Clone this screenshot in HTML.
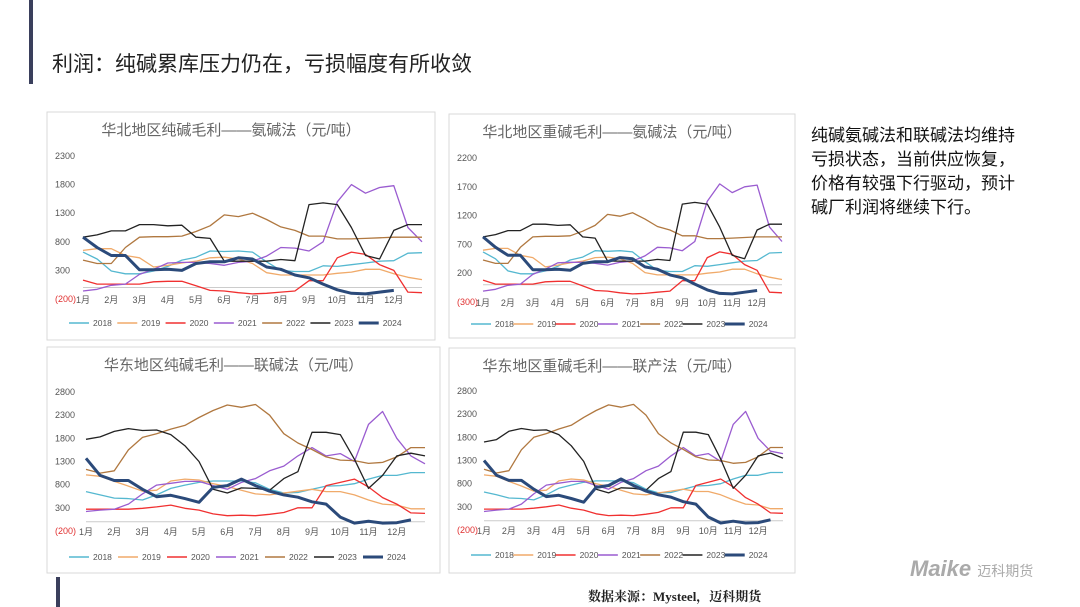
<!DOCTYPE html>
<html><head><meta charset="utf-8">
<style>
body{margin:0;width:1080px;height:607px;background:#fff;position:relative;overflow:hidden;font-family:"Liberation Sans","Noto Sans CJK SC",sans-serif;}
.abs{position:absolute}
</style></head><body>
<div class="abs" style="left:29px;top:0;width:4px;height:84px;background:#3a3f5c"></div>
<div class="abs" style="left:52px;top:48px;font-size:21px;color:#222;">利润：纯碱累库压力仍在，亏损幅度有所收敛</div>
<div class="abs" style="left:811px;top:124px;font-size:17px;line-height:24px;color:#111;">纯碱氨碱法和联碱法均维持<br>亏损状态，当前供应恢复，<br>价格有较强下行驱动，预计<br>碱厂利润将继续下行。</div>
<div class="abs" style="left:56px;top:577px;width:4px;height:30px;background:#3a3f5c"></div>
<div class="abs" style="left:588px;top:586px;font-size:13px;font-weight:bold;color:#222;font-family:'Liberation Serif','Noto Serif CJK SC',serif;">数据来源：Mysteel，迈科期货</div>
<div class="abs" style="left:910px;top:556px;font-size:22px;font-weight:bold;font-style:italic;color:#aaa;">Maike <span style="font-size:14px;font-style:normal;font-weight:normal">迈科期货</span></div>
<svg id="svg" class="abs" style="left:0;top:0" width="1080" height="607"></svg>
<script>
const years=['2018','2019','2020','2021','2022','2023','2024'];
const colors=['#55b8d0','#f0aa6a','#f03030','#9a5cd0','#b07840','#222222','#2b4a7a'];
const months=['1月','2月','3月','4月','5月','6月','7月','8月','9月','10月','11月','12月'];
const ticksA=[-200,300,800,1300,1800,2300];
const ticksB=[-300,200,700,1200,1700,2200];
const ticksC=[-200,300,800,1300,1800,2300,2800];
const nA18=[620,500,290,240,240,290,370,480,530,640,630,640,620,450,300,280,280,380,370,400,430,460,470,600,610];
const nA19=[650,680,680,560,520,360,390,430,460,520,530,500,420,260,220,220,220,220,250,270,320,320,240,180,140];
const nA20=[130,60,60,60,60,100,110,110,30,-50,-60,-90,-110,-100,-80,-60,120,120,520,620,580,400,300,-80,-90];
const nA21=[-60,-30,40,60,230,320,430,440,440,420,390,440,460,550,700,690,640,800,1500,1800,1650,1750,1780,1050,800];
const nA22=[480,420,420,700,880,890,890,900,980,1080,1270,1240,1300,1190,1060,1000,900,900,850,850,860,870,880,880,880];
const nA23=[880,920,990,990,1100,1100,1080,1090,880,860,460,460,460,460,490,470,1450,1480,1450,1050,560,500,1000,1100,1100];
const nA24=[880,700,560,560,310,310,320,300,420,450,450,520,500,360,320,220,170,60,-40,-100,-110,-80,-50,null,null];
const nB18=[570,450,240,190,190,240,320,430,480,590,580,590,570,400,250,230,230,330,320,350,380,410,420,550,560];
const nB19=[600,630,630,510,470,310,340,380,410,470,480,450,370,210,170,170,170,170,200,220,270,270,190,130,90];
const nB20=[80,10,10,10,10,50,60,60,-20,-100,-110,-140,-160,-150,-130,-110,70,70,470,570,530,350,250,-130,-140];
const nB21=[-110,-80,-10,10,180,270,380,390,390,370,340,390,410,500,650,640,590,750,1450,1750,1600,1700,1730,1000,750];
const nB22=[430,370,370,650,830,840,840,850,930,1030,1220,1190,1250,1140,1010,950,850,850,800,800,810,820,830,830,830];
const nB23=[830,870,940,940,1050,1050,1030,1040,830,810,410,410,410,410,440,420,1400,1430,1400,1000,510,450,950,1050,1050];
const nB24=[830,650,510,510,260,260,270,250,370,400,400,470,450,310,270,170,120,10,-90,-150,-160,-130,-100,null,null];
const eC18=[650,580,510,500,470,580,720,790,850,880,880,880,840,700,620,630,700,770,780,820,920,1000,1000,1060,1060];
const eC19=[1010,980,870,770,660,680,880,920,900,820,760,680,600,580,620,660,700,650,650,580,470,380,360,280,280];
const eC20=[270,270,270,270,290,320,360,290,250,170,130,140,130,160,200,300,300,780,850,920,750,520,380,190,180];
const eC21=[220,250,270,380,600,790,830,870,870,780,700,850,930,1100,1200,1420,1600,1420,1470,1300,2100,2380,1800,1420,1250];
const eC22=[1130,1050,1100,1550,1820,1900,2000,2080,2250,2400,2520,2470,2530,2300,1900,1700,1560,1400,1330,1320,1260,1280,1400,1600,1600];
const eC23=[1780,1830,1950,2010,1970,1980,1880,1640,1300,700,620,730,720,680,930,1080,1930,1930,1880,1350,720,1000,1420,1480,1420];
const eC24=[1370,1000,890,890,700,540,570,500,420,740,780,920,780,660,580,530,430,380,100,-30,10,-30,-20,40,null];
const eD18=[620,560,490,480,450,560,700,770,830,860,860,860,820,680,600,610,680,750,760,800,900,980,980,1040,1040];
const eD19=[990,960,850,750,640,660,860,900,880,800,740,660,580,560,600,640,680,630,630,560,450,360,340,260,260];
const eD20=[250,250,250,250,270,300,340,270,230,150,110,120,110,140,180,280,280,760,830,900,730,500,360,170,160];
const eD21=[200,230,250,360,580,770,810,850,850,760,680,830,910,1080,1180,1400,1580,1400,1450,1280,2080,2360,1780,1500,1450];
const eD22=[1110,1030,1080,1530,1800,1880,1980,2060,2230,2380,2500,2450,2510,2280,1880,1680,1540,1380,1310,1300,1240,1260,1380,1580,1580];
const eD23=[1700,1750,1930,1990,1950,1960,1860,1620,1280,680,600,710,700,660,910,1060,1910,1910,1860,1330,700,980,1400,1460,1350];
const eD24=[1300,980,870,870,680,520,550,480,400,720,760,900,760,640,560,510,410,360,80,-50,-10,-50,-40,20,null];

const svg=document.getElementById('svg');const NS='http://www.w3.org/2000/svg';
function mk(t,a,p){const e=document.createElementNS(NS,t);for(const k in a)e.setAttribute(k,a[k]);(p||svg).appendChild(e);return e;}
function chart(c){
  const g=mk('g',{});
  
  
  const box=mk('rect',{x:c.bx,y:c.by,width:c.bw,height:c.bh,fill:'#fff',stroke:'#d9d9d9'},g);
  
  
  const tt=mk('text',{x:c.bx+c.bw/2-10,y:c.by+23,'text-anchor':'middle','font-size':15,fill:'#666'},g);tt.textContent=c.title;
  
  
  const tmin=c.ticks[0],tmax=c.ticks[c.ticks.length-1];
  const Y=v=>c.y1+(c.y0-c.y1)*(tmax-v)/(tmax-tmin);
  const X=m=>c.x0+(c.x1-c.x0)*m/12;
  c.ticks.forEach((t,i)=>{const e=mk('text',{x:c.bx+8,y:Y(t)+3,'font-size':9,fill:i==0?'#e03030':'#555'},g);e.textContent=t<0?'('+(-t)+')':t;
    
    });
  const ax=mk('line',{x1:X(0),x2:X(12),y1:Y(0),y2:Y(0),stroke:'#ccc'},g);
  
  
  months.forEach((m,i)=>{const e=mk('text',{x:X(i),y:c.y0+4,'font-size':9,fill:'#555','text-anchor':'middle'},g);e.textContent=m;
    
    });
  c.series.forEach((s,k)=>{let d='';s.forEach((v,i)=>{if(v==null)return;d+=(d?'L':'M')+X(i*0.5).toFixed(1)+','+Y(v).toFixed(1);});
    const p=mk('path',{d:d,fill:'none',stroke:colors[k],'stroke-width':k==6?3:1.3,'stroke-linejoin':'round'},g);
    
    });
  const lw=(c.bw-50)/7;
  years.forEach((y,k)=>{const lx=c.bx+22+k*lw;
    const l=mk('line',{x1:lx,x2:lx+20,y1:c.ly,y2:c.ly,stroke:colors[k],'stroke-width':k==6?3:1.5},g);
    
    
    const t=mk('text',{x:lx+24,y:c.ly+3,'font-size':8.5,fill:'#555'},g);t.textContent=y;
    
    });
}
chart({name:'chart-north-ammonia-light',bx:47,by:112,bw:388,bh:228,title:'华北地区纯碱毛利——氨碱法（元/吨）',ticks:ticksA,y1:156,y0:299,x0:83,x1:422,ly:323,series:[nA18,nA19,nA20,nA21,nA22,nA23,nA24]});
chart({name:'chart-north-ammonia-heavy',bx:449,by:114,bw:346,bh:224,title:'华北地区重碱毛利——氨碱法（元/吨）',ticks:ticksB,y1:158,y0:302,x0:483,x1:782,ly:324,series:[nB18,nB19,nB20,nB21,nB22,nB23,nB24]});
chart({name:'chart-east-joint-light',bx:47,by:347,bw:393,bh:226,title:'华东地区纯碱毛利——联碱法（元/吨）',ticks:ticksC,y1:392,y0:531,x0:86,x1:425,ly:557,series:[eC18,eC19,eC20,eC21,eC22,eC23,eC24]});
chart({name:'chart-east-joint-heavy',bx:449,by:348,bw:346,bh:225,title:'华东地区重碱毛利——联产法（元/吨）',ticks:ticksC,y1:391,y0:530,x0:484,x1:783,ly:555,series:[eD18,eD19,eD20,eD21,eD22,eD23,eD24]});
</script>
</body></html>
